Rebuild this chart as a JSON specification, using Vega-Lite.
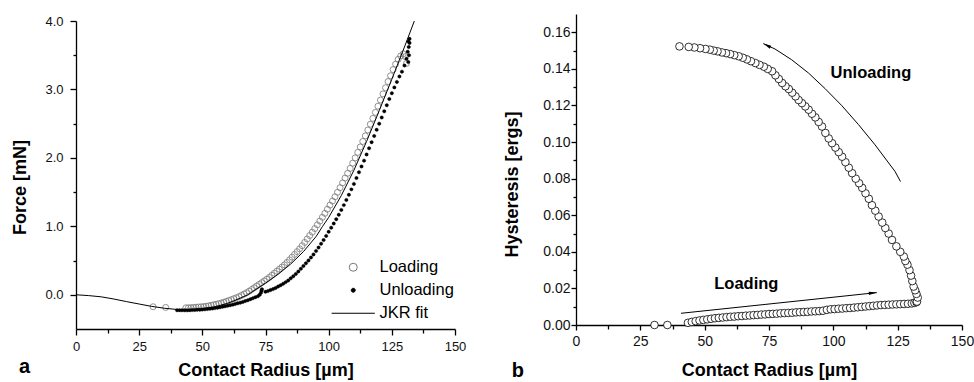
{
  "$schema": "https://vega.github.io/schema/vega-lite/v6.json",
  "background": "white",
  "padding": {"left": 11, "top": 14, "right": 0, "bottom": 0},
  "spacing": 37,
  "config": {
    "font": "Liberation Sans",
    "view": {"stroke": null},
    "axis": {
      "grid": false, "domainColor": "#000", "domainWidth": 1.3, "tickColor": "#000", "tickWidth": 1.3,
      "labelColor": "#111", "titleColor": "#000", "labelFont": "Liberation Sans", "titleFont": "Liberation Sans",
      "titleFontWeight": "bold", "titleFontSize": 18, "labelOverlap": false, "labelFlush": false, "labelBound": false
    },
    "title": {"font": "Liberation Sans", "fontSize": 20, "fontWeight": "bold", "color": "#000"}
  },
  "datasets": {
    "fit": [
      {"r": 0, "F": 0}, {"r": 5, "F": -0.012}, {"r": 10, "F": -0.03}, {"r": 15, "F": -0.062}, {"r": 20, "F": -0.1},
      {"r": 25, "F": -0.135}, {"r": 30, "F": -0.17}, {"r": 35, "F": -0.197}, {"r": 40, "F": -0.215}, {"r": 45, "F": -0.22},
      {"r": 50, "F": -0.205}, {"r": 55, "F": -0.175}, {"r": 60, "F": -0.125}, {"r": 65, "F": -0.05}, {"r": 68, "F": 0.0},
      {"r": 70, "F": 0.05}, {"r": 75, "F": 0.17}, {"r": 80, "F": 0.3}, {"r": 85, "F": 0.45}, {"r": 90, "F": 0.63},
      {"r": 95, "F": 0.85}, {"r": 97.6, "F": 1.0}, {"r": 100, "F": 1.13}, {"r": 105, "F": 1.45}, {"r": 110, "F": 1.82},
      {"r": 115, "F": 2.24}, {"r": 120, "F": 2.69}, {"r": 125, "F": 3.15}, {"r": 130, "F": 3.62}, {"r": 133.9, "F": 4.0}
    ],
    "loadA": [
      {"r": 30.5, "F": -0.175}, {"r": 35.5, "F": -0.185},
      {"r": 43.5, "F": -0.19}, {"r": 44.5, "F": -0.19}, {"r": 45.5, "F": -0.188}, {"r": 46.5, "F": -0.185}, {"r": 47.5, "F": -0.182},
      {"r": 48.5, "F": -0.179}, {"r": 49.5, "F": -0.176}, {"r": 50.5, "F": -0.173}, {"r": 51.5, "F": -0.168}, {"r": 52.5, "F": -0.162},
      {"r": 53.5, "F": -0.154}, {"r": 54.5, "F": -0.146}, {"r": 55.5, "F": -0.139}, {"r": 56.5, "F": -0.13}, {"r": 57.5, "F": -0.12},
      {"r": 58.5, "F": -0.109}, {"r": 59.5, "F": -0.097}, {"r": 60.5, "F": -0.084}, {"r": 61.5, "F": -0.071}, {"r": 62.5, "F": -0.057},
      {"r": 63.5, "F": -0.043}, {"r": 64.5, "F": -0.027}, {"r": 65.5, "F": -0.009}, {"r": 66.5, "F": 0.01}, {"r": 67.5, "F": 0.03},
      {"r": 68.5, "F": 0.052}, {"r": 69.5, "F": 0.077}, {"r": 70.5, "F": 0.102}, {"r": 71.5, "F": 0.127}, {"r": 72.5, "F": 0.152},
      {"r": 73.5, "F": 0.177}, {"r": 74.5, "F": 0.202}, {"r": 75.5, "F": 0.227}, {"r": 76.5, "F": 0.254}, {"r": 77.5, "F": 0.285},
      {"r": 78.5, "F": 0.315}, {"r": 79.5, "F": 0.345}, {"r": 80.5, "F": 0.375}, {"r": 81.5, "F": 0.405}, {"r": 82.5, "F": 0.437},
      {"r": 83.5, "F": 0.472}, {"r": 84.5, "F": 0.51}, {"r": 85.5, "F": 0.55}, {"r": 86.5, "F": 0.59}, {"r": 87.5, "F": 0.63},
      {"r": 88.5, "F": 0.672}, {"r": 89.5, "F": 0.717}, {"r": 90.5, "F": 0.765}, {"r": 91.5, "F": 0.815}, {"r": 92.5, "F": 0.865},
      {"r": 93.5, "F": 0.915}, {"r": 94.5, "F": 0.967}, {"r": 95.5, "F": 1.022}, {"r": 96.5, "F": 1.077}, {"r": 97.5, "F": 1.132},
      {"r": 98.5, "F": 1.19}, {"r": 99.5, "F": 1.25}, {"r": 100.5, "F": 1.31}, {"r": 101.5, "F": 1.37}, {"r": 102.5, "F": 1.432},
      {"r": 103.5, "F": 1.497}, {"r": 104.5, "F": 1.565}, {"r": 105.5, "F": 1.635}, {"r": 106.5, "F": 1.705}, {"r": 107.5, "F": 1.775},
      {"r": 108.5, "F": 1.847}, {"r": 109.5, "F": 1.922}, {"r": 110.5, "F": 2.0}, {"r": 111.5, "F": 2.08}, {"r": 112.5, "F": 2.16},
      {"r": 113.5, "F": 2.24}, {"r": 114.5, "F": 2.322}, {"r": 115.5, "F": 2.407}, {"r": 116.5, "F": 2.492}, {"r": 117.5, "F": 2.577},
      {"r": 118.5, "F": 2.665}, {"r": 119.5, "F": 2.755}, {"r": 120.5, "F": 2.845}, {"r": 121.5, "F": 2.935}, {"r": 122.5, "F": 3.025},
      {"r": 123.5, "F": 3.115}, {"r": 124.5, "F": 3.2}, {"r": 125.5, "F": 3.29}, {"r": 126.5, "F": 3.37}, {"r": 127.5, "F": 3.44},
      {"r": 128.5, "F": 3.49}, {"r": 129.5, "F": 3.52}, {"r": 130.3, "F": 3.48}, {"r": 130.8, "F": 3.38}
    ],
    "unloadA": [
      {"r": 40, "F": -0.225}, {"r": 41, "F": -0.225}, {"r": 42, "F": -0.226}, {"r": 43, "F": -0.227}, {"r": 44, "F": -0.227},
      {"r": 45, "F": -0.225}, {"r": 46, "F": -0.223}, {"r": 47, "F": -0.221}, {"r": 48, "F": -0.22}, {"r": 49, "F": -0.218},
      {"r": 50, "F": -0.216}, {"r": 51, "F": -0.212}, {"r": 52, "F": -0.208}, {"r": 53, "F": -0.205}, {"r": 54, "F": -0.2},
      {"r": 55, "F": -0.195}, {"r": 56, "F": -0.189}, {"r": 57, "F": -0.182}, {"r": 58, "F": -0.175}, {"r": 59, "F": -0.168},
      {"r": 60, "F": -0.16}, {"r": 61, "F": -0.152}, {"r": 62, "F": -0.144}, {"r": 63, "F": -0.135}, {"r": 64, "F": -0.125},
      {"r": 65, "F": -0.115}, {"r": 66, "F": -0.104}, {"r": 67, "F": -0.092}, {"r": 68, "F": -0.079}, {"r": 69, "F": -0.065},
      {"r": 70, "F": -0.05}, {"r": 71, "F": -0.035}, {"r": 72, "F": -0.02}, {"r": 72.7, "F": 0.0}, {"r": 73.2, "F": 0.03},
      {"r": 73.4, "F": 0.06}, {"r": 73.6, "F": 0.08}, {"r": 75, "F": 0.045}, {"r": 76, "F": 0.055}, {"r": 77, "F": 0.07},
      {"r": 78, "F": 0.083}, {"r": 79, "F": 0.1}, {"r": 80, "F": 0.12}, {"r": 81, "F": 0.14}, {"r": 82, "F": 0.16},
      {"r": 83, "F": 0.185}, {"r": 84, "F": 0.21}, {"r": 85, "F": 0.24}, {"r": 86, "F": 0.27}, {"r": 87, "F": 0.305},
      {"r": 88, "F": 0.34}, {"r": 89, "F": 0.38}, {"r": 90, "F": 0.42}, {"r": 91, "F": 0.46}, {"r": 92, "F": 0.5},
      {"r": 93, "F": 0.545}, {"r": 94, "F": 0.59}, {"r": 95, "F": 0.64}, {"r": 96, "F": 0.69}, {"r": 97, "F": 0.745},
      {"r": 98, "F": 0.8}, {"r": 99, "F": 0.86}, {"r": 100, "F": 0.92}, {"r": 101, "F": 0.98}, {"r": 102, "F": 1.04},
      {"r": 103, "F": 1.105}, {"r": 104, "F": 1.17}, {"r": 105, "F": 1.24}, {"r": 106, "F": 1.31}, {"r": 107, "F": 1.385},
      {"r": 108, "F": 1.46}, {"r": 109, "F": 1.54}, {"r": 110, "F": 1.62}, {"r": 111, "F": 1.705}, {"r": 112, "F": 1.79},
      {"r": 113, "F": 1.875}, {"r": 114, "F": 1.96}, {"r": 115, "F": 2.05}, {"r": 116, "F": 2.14}, {"r": 117, "F": 2.23},
      {"r": 118, "F": 2.32}, {"r": 119, "F": 2.41}, {"r": 120, "F": 2.5}, {"r": 121, "F": 2.59}, {"r": 122, "F": 2.68},
      {"r": 123, "F": 2.77}, {"r": 124, "F": 2.86}, {"r": 125, "F": 2.945}, {"r": 126, "F": 3.03}, {"r": 127, "F": 3.11},
      {"r": 128, "F": 3.19}, {"r": 129, "F": 3.26}, {"r": 130, "F": 3.35}, {"r": 130.8, "F": 3.45}, {"r": 131.3, "F": 3.55},
      {"r": 131.7, "F": 3.62}, {"r": 132, "F": 3.68}, {"r": 132, "F": 3.74}, {"r": 131.6, "F": 3.7}, {"r": 131.8, "F": 3.5},
      {"r": 131.5, "F": 3.4}
    ],
    "hyst": [
      {"r": 30.5, "H": 0.0}, {"r": 35.5, "H": 0.0}, {"r": 43.5, "H": 0.0012}, {"r": 45, "H": 0.0017}, {"r": 46.5, "H": 0.0021},
      {"r": 48, "H": 0.0025}, {"r": 49.5, "H": 0.0028}, {"r": 51, "H": 0.0031}, {"r": 52.5, "H": 0.0034}, {"r": 54, "H": 0.0037},
      {"r": 55.5, "H": 0.0039}, {"r": 57, "H": 0.0041}, {"r": 58.5, "H": 0.0043}, {"r": 60, "H": 0.0045}, {"r": 61.5, "H": 0.0046},
      {"r": 63, "H": 0.0048}, {"r": 64.5, "H": 0.0049}, {"r": 66, "H": 0.0051}, {"r": 67.5, "H": 0.0052}, {"r": 69, "H": 0.0054},
      {"r": 70.5, "H": 0.0055}, {"r": 72, "H": 0.0057}, {"r": 73.5, "H": 0.0058}, {"r": 75, "H": 0.006}, {"r": 76.5, "H": 0.0061},
      {"r": 78, "H": 0.0062}, {"r": 79.5, "H": 0.0064}, {"r": 81, "H": 0.0065}, {"r": 82.5, "H": 0.0066}, {"r": 84, "H": 0.0067},
      {"r": 85.5, "H": 0.0069}, {"r": 87, "H": 0.007}, {"r": 88.5, "H": 0.0071}, {"r": 90, "H": 0.0072}, {"r": 91.5, "H": 0.0074},
      {"r": 93, "H": 0.0075}, {"r": 94.5, "H": 0.0076}, {"r": 96, "H": 0.0078}, {"r": 97.5, "H": 0.0083}, {"r": 99, "H": 0.0086},
      {"r": 100.5, "H": 0.0087}, {"r": 102, "H": 0.0089}, {"r": 103.5, "H": 0.009}, {"r": 105, "H": 0.0092}, {"r": 106.5, "H": 0.0093},
      {"r": 108, "H": 0.0095}, {"r": 109.5, "H": 0.0097}, {"r": 111, "H": 0.0099}, {"r": 112.5, "H": 0.0101}, {"r": 114, "H": 0.0103},
      {"r": 115.5, "H": 0.0105}, {"r": 117, "H": 0.0107}, {"r": 118.5, "H": 0.0109}, {"r": 120, "H": 0.011}, {"r": 121.5, "H": 0.0111},
      {"r": 123, "H": 0.0112}, {"r": 124.5, "H": 0.0113}, {"r": 126, "H": 0.0114}, {"r": 127.5, "H": 0.0115}, {"r": 129, "H": 0.0116},
      {"r": 130.5, "H": 0.0118}, {"r": 131.5, "H": 0.0121}, {"r": 132.3, "H": 0.0125},
      {"r": 132.5, "H": 0.0128}, {"r": 132.8, "H": 0.015}, {"r": 132.3, "H": 0.017}, {"r": 131.8, "H": 0.019}, {"r": 131.2, "H": 0.021},
      {"r": 130.7, "H": 0.024}, {"r": 130.2, "H": 0.027}, {"r": 129.6, "H": 0.03}, {"r": 128.8, "H": 0.033}, {"r": 128, "H": 0.035},
      {"r": 127.4, "H": 0.0374}, {"r": 126, "H": 0.04}, {"r": 124.5, "H": 0.043}, {"r": 122.8, "H": 0.0465}, {"r": 121.5, "H": 0.05},
      {"r": 120.2, "H": 0.053}, {"r": 119, "H": 0.056}, {"r": 117.6, "H": 0.0593}, {"r": 116.3, "H": 0.0625}, {"r": 115, "H": 0.0655},
      {"r": 113.8, "H": 0.069}, {"r": 112.5, "H": 0.072}, {"r": 111.2, "H": 0.075}, {"r": 110, "H": 0.0775}, {"r": 108.7, "H": 0.08},
      {"r": 107.3, "H": 0.083}, {"r": 106, "H": 0.086}, {"r": 104.7, "H": 0.089}, {"r": 103.4, "H": 0.092}, {"r": 102.1, "H": 0.0945},
      {"r": 100.8, "H": 0.097}, {"r": 99.5, "H": 0.0994}, {"r": 98.2, "H": 0.102}, {"r": 96.9, "H": 0.105}, {"r": 95.6, "H": 0.1085},
      {"r": 94.3, "H": 0.111}, {"r": 93, "H": 0.1135}, {"r": 91.7, "H": 0.1155}, {"r": 90.4, "H": 0.1177}, {"r": 89.1, "H": 0.1195},
      {"r": 87.8, "H": 0.1213}, {"r": 86.5, "H": 0.123}, {"r": 85.3, "H": 0.125}, {"r": 84, "H": 0.127}, {"r": 82.7, "H": 0.129},
      {"r": 81.4, "H": 0.1305}, {"r": 80.1, "H": 0.1323}, {"r": 78.8, "H": 0.1345}, {"r": 77.5, "H": 0.1365}, {"r": 76.2, "H": 0.1387},
      {"r": 74.5, "H": 0.14}, {"r": 73, "H": 0.1412}, {"r": 71.3, "H": 0.1422}, {"r": 69.7, "H": 0.1432}, {"r": 68, "H": 0.1442},
      {"r": 66.4, "H": 0.1452}, {"r": 64.8, "H": 0.1461}, {"r": 63.2, "H": 0.1469}, {"r": 61.5, "H": 0.1475}, {"r": 59.9, "H": 0.1481},
      {"r": 58.3, "H": 0.1486}, {"r": 56.7, "H": 0.149}, {"r": 55, "H": 0.1496}, {"r": 53.5, "H": 0.15}, {"r": 52, "H": 0.1505},
      {"r": 50.3, "H": 0.1509}, {"r": 48.2, "H": 0.1513}, {"r": 46, "H": 0.1517}, {"r": 43.8, "H": 0.152}, {"r": 40.2, "H": 0.1523}
    ],
    "arrows": [
      {"arrow": "unloading", "k": 0, "r": 72.8, "H": 0.1538}, {"arrow": "unloading", "k": 1, "r": 77.3, "H": 0.1509},
      {"arrow": "unloading", "k": 2, "r": 83.8, "H": 0.145}, {"arrow": "unloading", "k": 3, "r": 90.3, "H": 0.1378},
      {"arrow": "unloading", "k": 4, "r": 96.8, "H": 0.1292}, {"arrow": "unloading", "k": 5, "r": 103.3, "H": 0.1199},
      {"arrow": "unloading", "k": 6, "r": 109.8, "H": 0.1095}, {"arrow": "unloading", "k": 7, "r": 116.2, "H": 0.0985},
      {"arrow": "unloading", "k": 8, "r": 124, "H": 0.0839}, {"arrow": "unloading", "k": 9, "r": 126.1, "H": 0.0784},
      {"arrow": "loading", "k": 0, "r": 40.8, "H": 0.0064}, {"arrow": "loading", "k": 1, "r": 116.9, "H": 0.0177}
    ],
    "labels": [
      {"label": "Unloading", "r": 114.6, "H": 0.1377},
      {"label": "Loading", "r": 66.2, "H": 0.0224}
    ]
  },
  "hconcat": [
    {
      "width": 379,
      "height": 315,
      "title": {"text": "a", "orient": "bottom", "anchor": "start", "frame": "bounds", "offset": -22, "dx": 7},
      "encoding": {
        "x": {
          "field": "r", "type": "quantitative",
          "scale": {"domain": [0, 150], "nice": false, "zero": false},
          "axis": {
            "title": "Contact Radius [µm]",
            "values": [0, 12.5, 25, 37.5, 50, 62.5, 75, 87.5, 100, 112.5, 125, 137.5, 150],
            "format": "d",
            "labelExpr": "datum.value % 25 === 0 ? datum.label : ''",
            "tickSize": {"condition": {"test": "datum.value % 25 === 0", "value": 6}, "value": 4},
            "labelFontSize": 13, "labelPadding": 5, "titlePadding": 8
          }
        },
        "y": {
          "field": "F", "type": "quantitative",
          "scale": {"domain": [-0.5, 4.0], "nice": false, "zero": false, "range": [315, 7]},
          "axis": {
            "title": "Force [mN]",
            "values": [0, 0.5, 1, 1.5, 2, 2.5, 3, 3.5, 4],
            "format": ".1f",
            "labelExpr": "datum.value % 1 === 0 ? datum.label : ''",
            "tickSize": {"condition": {"test": "datum.value % 1 === 0", "value": 6}, "value": 3},
            "labelFontSize": 13, "labelPadding": 7, "titlePadding": 15, "titleY": 173
          }
        }
      },
      "layer": [
        {
          "data": {"name": "loadA"},
          "mark": {"type": "point", "size": 36, "strokeWidth": 0.8, "opacity": 1},
          "encoding": {
            "shape": {
              "datum": "Loading", "type": "nominal",
              "scale": {"domain": ["Loading", "Unloading", "JKR fit"], "range": ["circle", "M0.5,0A0.5,0.5,0,1,1,-0.5,0A0.5,0.5,0,1,1,0.5,0Z", "M-5.4,0H5.4"]},
              "legend": {
                "orient": "none", "legendX": 269, "legendY": 245, "title": null, "padding": 0,
                "labelFontSize": 16.5, "labelFont": "Liberation Sans", "labelColor": "#000",
                "symbolSize": 64, "labelOffset": 18, "rowPadding": 6, "symbolStrokeWidth": 1, "symbolOpacity": 1
              }
            },
            "fill": {
              "datum": "Loading", "type": "nominal",
              "scale": {"domain": ["Loading", "Unloading", "JKR fit"], "range": ["transparent", "#000000", "transparent"]},
              "legend": {
                "orient": "none", "legendX": 269, "legendY": 245, "title": null, "padding": 0,
                "labelFontSize": 16.5, "labelFont": "Liberation Sans", "labelColor": "#000",
                "symbolSize": 64, "labelOffset": 18, "rowPadding": 6, "symbolStrokeWidth": 1, "symbolOpacity": 1
              }
            },
            "stroke": {
              "datum": "Loading", "type": "nominal",
              "scale": {"domain": ["Loading", "Unloading", "JKR fit"], "range": ["#777777", "#000000", "#000000"]},
              "legend": {
                "orient": "none", "legendX": 269, "legendY": 245, "title": null, "padding": 0,
                "labelFontSize": 16.5, "labelFont": "Liberation Sans", "labelColor": "#000",
                "symbolSize": 64, "labelOffset": 18, "rowPadding": 6, "symbolStrokeWidth": 1, "symbolOpacity": 1
              }
            }
          }
        },
        {
          "data": {"name": "unloadA"},
          "mark": {"type": "point", "size": 48, "strokeWidth": 0.3, "opacity": 1},
          "encoding": {
            "shape": {"datum": "Unloading", "type": "nominal"},
            "fill": {"datum": "Unloading", "type": "nominal"},
            "stroke": {"datum": "Unloading", "type": "nominal"}
          }
        },
        {
          "data": {"name": "fit"},
          "mark": {"type": "line", "strokeWidth": 1},
          "encoding": {"stroke": {"datum": "JKR fit", "type": "nominal"}}
        }
      ]
    },
    {
      "width": 386,
      "height": 311,
      "title": {"text": "b", "orient": "bottom", "anchor": "start", "frame": "bounds", "offset": -18, "dx": 8},
      "encoding": {
        "x": {
          "field": "r", "type": "quantitative",
          "scale": {"domain": [0, 150], "nice": false, "zero": false},
          "axis": {
            "title": "Contact Radius [µm]",
            "values": [0, 12.5, 25, 37.5, 50, 62.5, 75, 87.5, 100, 112.5, 125, 137.5, 150],
            "format": "d",
            "labelExpr": "datum.value % 25 === 0 ? datum.label : ''",
            "tickSize": {"condition": {"test": "datum.value % 25 === 0", "value": 5}, "value": 4},
            "labelFontSize": 14, "labelPadding": 4, "titlePadding": 13
          }
        },
        "y": {
          "field": "H", "type": "quantitative",
          "scale": {"domain": [0, 0.17], "nice": false, "zero": false},
          "axis": {
            "title": "Hysteresis [ergs]",
            "values": [0, 0.01, 0.02, 0.03, 0.04, 0.05, 0.06, 0.07, 0.08, 0.09, 0.1, 0.11, 0.12, 0.13, 0.14, 0.15, 0.16],
            "format": ".2f",
            "labelExpr": "round(datum.value * 100) % 2 === 0 ? datum.label : ''",
            "tickSize": {"condition": {"test": "round(datum.value * 100) % 2 === 0", "value": 5}, "value": 3},
            "labelFontSize": 14, "labelPadding": 1, "titlePadding": 21, "titleY": 170
          }
        }
      },
      "layer": [
        {
          "data": {"name": "hyst"},
          "mark": {"type": "point", "shape": "circle", "filled": true, "fill": "#ffffff", "stroke": "#000000", "strokeWidth": 0.8, "size": 58, "opacity": 1}
        },
        {
          "data": {"name": "arrows"},
          "mark": {"type": "line", "color": "#000", "strokeWidth": 1},
          "encoding": {"detail": {"field": "arrow"}, "order": {"field": "k"}}
        },
        {
          "data": {"name": "arrows"},
          "transform": [{"filter": "datum.arrow === 'unloading' && datum.k === 0"}],
          "mark": {"type": "point", "shape": "M0,-1L0.4,1L-0.4,1Z", "filled": true, "color": "#000", "size": 64, "angle": 297, "opacity": 1, "xOffset": 3.6, "yOffset": 1.8}
        },
        {
          "data": {"name": "arrows"},
          "transform": [{"filter": "datum.arrow === 'loading' && datum.k === 1"}],
          "mark": {"type": "point", "shape": "M0,-1L0.4,1L-0.4,1Z", "filled": true, "color": "#000", "size": 64, "angle": 84, "opacity": 1, "xOffset": -4, "yOffset": 0.4}
        },
        {
          "data": {"name": "labels"},
          "mark": {"type": "text", "font": "Liberation Sans", "fontSize": 16.5, "fontWeight": "bold", "color": "#000", "align": "center", "baseline": "middle"},
          "encoding": {"text": {"field": "label"}}
        }
      ]
    }
  ]
}
